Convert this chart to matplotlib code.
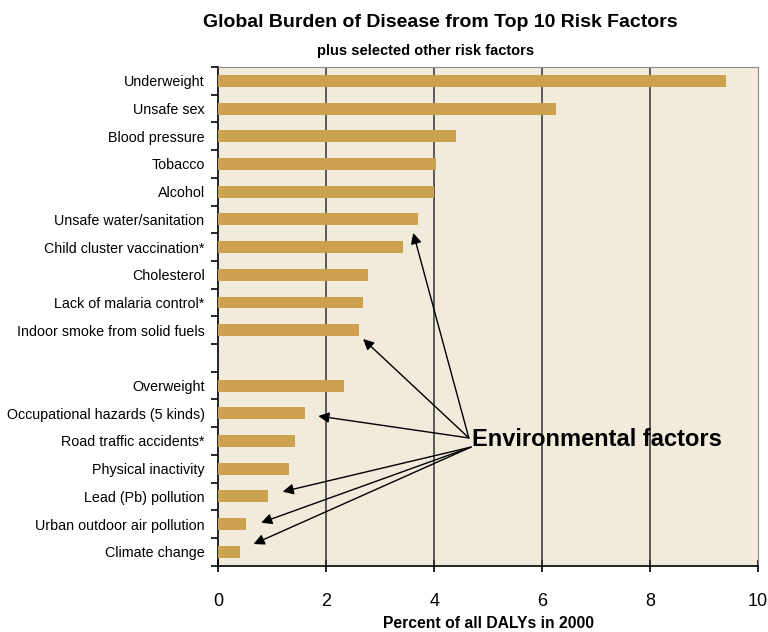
import numpy as np
import matplotlib.pyplot as plt
from matplotlib import font_manager
from matplotlib.ticker import FixedLocator

plt.rcParams['font.family'] = ['Liberation Sans', 'DejaVu Sans']

top10 = ['Underweight', 'Unsafe sex', 'Blood pressure', 'Tobacco', 'Alcohol',
         'Unsafe water/sanitation', 'Child cluster vaccination*', 'Cholesterol',
         'Lack of malaria control*', 'Indoor smoke from solid fuels']
top10_vals = [9.4, 6.25, 4.4, 4.03, 4.0, 3.7, 3.42, 2.77, 2.67, 2.6]

others = ['Overweight', 'Occupational hazards (5 kinds)', 'Road traffic accidents*',
          'Physical inactivity', 'Lead (Pb) pollution', 'Urban outdoor air pollution',
          'Climate change']
others_vals = [2.32, 1.61, 1.41, 1.31, 0.91, 0.51, 0.4]

ypos = list(range(len(top10))) + [len(top10) + 1 + i for i in range(len(others))]
vals = top10_vals + others_vals
names = top10 + others

# narrow bold face for the callout: Liberation Sans Narrow if installed
narrow = None
for f in font_manager.fontManager.ttflist:
    if f.name == 'Liberation Sans Narrow' and f.weight in ('bold', 700):
        narrow = font_manager.FontProperties(fname=f.fname, size=20)
        break

fig = plt.figure(figsize=(7.68, 6.32), dpi=100)
ax = fig.add_axes([0.2845, 0.105, 0.7025, 0.789])
ax.set_facecolor('#F2EADB')

ax.barh(ypos, vals, height=0.43, color='#CCA250', zorder=3)
ax.set_ylim(17.5, -0.5)
ax.set_xlim(0, 10)

ax.set_yticks(ypos)
ax.set_yticklabels(names, fontsize=10.3)
ax.tick_params(axis='y', which='major', length=0, pad=10)
ax.yaxis.set_minor_locator(FixedLocator(np.arange(-0.5, 18, 1)))
ax.tick_params(axis='y', which='minor', length=5, width=1.2, direction='out')

ax.set_xticks([0, 2, 4, 6, 8, 10])
ax.tick_params(axis='x', labelsize=13, length=8, width=1.2, direction='inout', pad=16)
for gx in [2, 4, 6, 8]:
    ax.axvline(gx, color='#333333', lw=1.1, zorder=2)

ax.spines['left'].set_linewidth(1.2)
ax.spines['bottom'].set_linewidth(1.2)
ax.spines['top'].set_color('#888888')
ax.spines['right'].set_color('#888888')

ax.set_xlabel('Percent of all DALYs in 2000', fontsize=11.3, fontweight='bold', labelpad=4)

fig.text(0.573, 0.965, 'Global Burden of Disease from Top 10 Risk Factors',
         ha='center', va='center', fontsize=14, fontweight='bold')
fig.text(0.554, 0.919, 'plus selected other risk factors',
         ha='center', va='center', fontsize=10.5, fontweight='bold')

if narrow is not None:
    ax.text(4.7, 12.95, 'Environmental factors', fontproperties=narrow,
            va='center', ha='left')
else:
    ax.text(4.7, 12.95, 'Environmental factors', fontsize=17, fontweight='bold',
            va='center', ha='left')

heads = [(3.61, 5.49), (2.68, 9.32), (1.85, 12.1), (1.19, 14.83), (0.79, 15.95), (0.65, 16.72)]
origins = [(4.64, 12.89)] * 3 + [(4.68, 13.22)] * 3
for (hx, hy), (ox, oy) in zip(heads, origins):
    ax.annotate('', xy=(hx, hy), xytext=(ox, oy),
                arrowprops=dict(arrowstyle='-|>', color='black', lw=1,
                                mutation_scale=16, shrinkA=0, shrinkB=0),
                zorder=5)

fig.savefig('out.png', dpi=100)
